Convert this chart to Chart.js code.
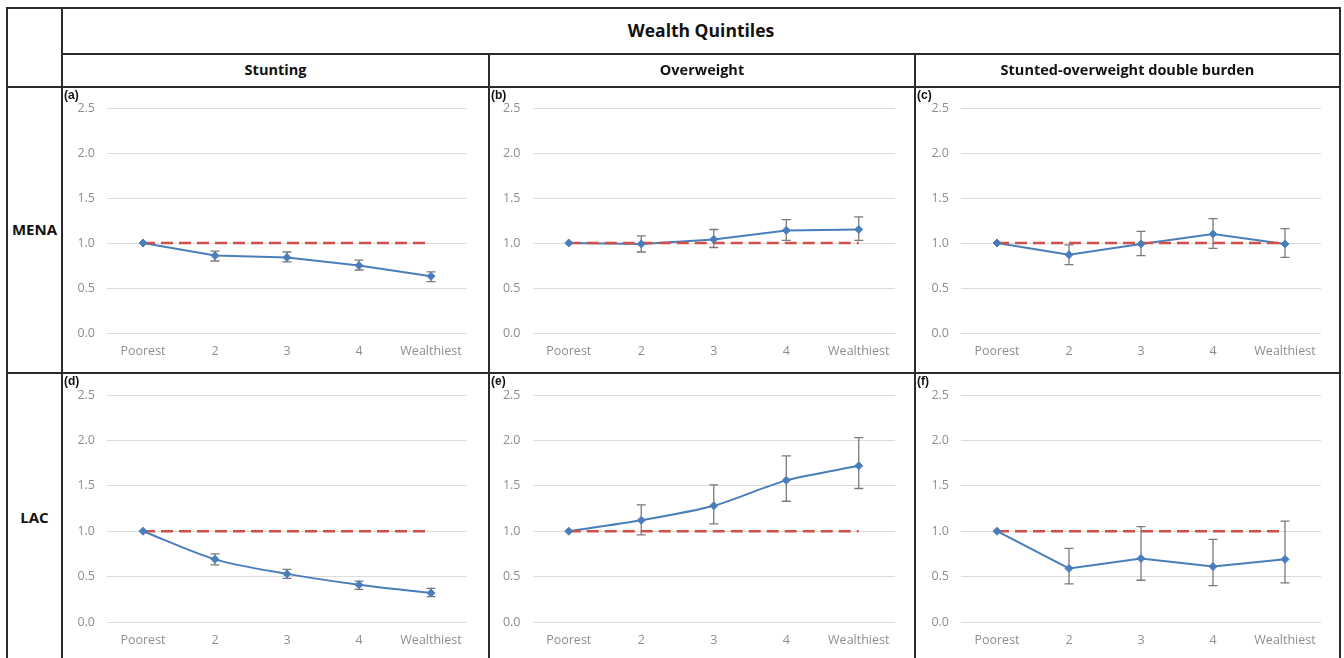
<!DOCTYPE html>
<html>
<head>
<meta charset="utf-8">
<script src="https://cdn.jsdelivr.net/npm/chart.js@4/dist/chart.umd.min.js"></script>
<style>
  html, body { margin: 0; padding: 0; background: #fff; }
  #page { position: relative; width: 1344px; height: 658px; overflow: hidden; font-family: "Open Sans", Lato, sans-serif; }
  canvas.panel { position: absolute; }
  .rule { position: absolute; background: #2b2b2b; z-index: 5; }
  .head { position: absolute; text-align: center; font-weight: 700; color: #111; z-index: 6; }
  .tag { position: absolute; font: bold 12px "Liberation Sans", Arial, sans-serif; color: #111; z-index: 6; }
</style>
</head>
<body>
<div id="page">
  <!-- table rules -->
  <div class="rule" style="left:6px; top:7px; width:1335px; height:2px;"></div>
  <div class="rule" style="left:6px; top:7px; width:2px; height:651px;"></div>
  <div class="rule" style="left:1339px; top:7px; width:2px; height:651px;"></div>
  <div class="rule" style="left:61px; top:7px; width:2px; height:651px;"></div>
  <div class="rule" style="left:61px; top:53px; width:1280px; height:2px;"></div>
  <div class="rule" style="left:6px; top:86px; width:1335px; height:2px;"></div>
  <div class="rule" style="left:488px; top:53px; width:2px; height:605px;"></div>
  <div class="rule" style="left:914px; top:53px; width:2px; height:605px;"></div>
  <div class="rule" style="left:6px; top:372px; width:1335px; height:2px;"></div>

  <!-- header texts -->
  <div class="head" style="left:63px; width:1276px; top:18px; font-size:17.5px;">Wealth Quintiles</div>
  <div class="head" style="left:63px; width:425px; top:60px; font-size:14.5px;">Stunting</div>
  <div class="head" style="left:490px; width:424px; top:60px; font-size:14.5px;">Overweight</div>
  <div class="head" style="left:916px; width:423px; top:60px; font-size:14.5px;">Stunted-overweight double burden</div>
  <div class="head" style="left:8px; width:53px; top:219px; font-size:15px;">MENA</div>
  <div class="head" style="left:8px; width:53px; top:507px; font-size:15px;">LAC</div>

  <!-- panel tags -->
  <div class="tag" style="left:64px; top:88px;">(a)</div>
  <div class="tag" style="left:491px; top:88px;">(b)</div>
  <div class="tag" style="left:917px; top:88px;">(c)</div>
  <div class="tag" style="left:64px; top:374px;">(d)</div>
  <div class="tag" style="left:491px; top:374px;">(e)</div>
  <div class="tag" style="left:917px; top:374px;">(f)</div>

  <canvas class="panel" id="pa" width="426" height="285" style="left:62px; top:88px;"></canvas>
  <canvas class="panel" id="pb" width="426" height="285" style="left:489px; top:88px;"></canvas>
  <canvas class="panel" id="pc" width="424" height="285" style="left:915px; top:88px;"></canvas>
  <canvas class="panel" id="pd" width="426" height="285" style="left:62px; top:373px;"></canvas>
  <canvas class="panel" id="pe" width="426" height="285" style="left:489px; top:373px;"></canvas>
  <canvas class="panel" id="pf" width="424" height="285" style="left:915px; top:373px;"></canvas>
</div>

<script>
// Wealth quintile categories and y-axis ticks
const quintiles = ['Poorest', '2', '3', '4', 'Wealthiest'];
const yTicks = [0, 0.5, 1.0, 1.5, 2.0, 2.5];
const reference = [1, 1, 1, 1, 1];

// MENA: odds ratios with 95% CI (poorest quintile = reference)
const menaStunting     = [1.00, 0.86, 0.84, 0.75, 0.63];
const menaStuntingLow  = [null, 0.80, 0.79, 0.70, 0.57];
const menaStuntingHigh = [null, 0.91, 0.90, 0.81, 0.68];

const menaOverweight     = [1.00, 0.99, 1.04, 1.14, 1.15];
const menaOverweightLow  = [null, 0.90, 0.95, 1.03, 1.03];
const menaOverweightHigh = [null, 1.08, 1.15, 1.26, 1.29];

const menaDouble     = [1.00, 0.87, 0.99, 1.10, 0.99];
const menaDoubleLow  = [null, 0.76, 0.86, 0.94, 0.84];
const menaDoubleHigh = [null, 0.98, 1.13, 1.27, 1.16];

// LAC
const lacStunting     = [1.00, 0.69, 0.53, 0.41, 0.32];
const lacStuntingLow  = [null, 0.63, 0.48, 0.36, 0.28];
const lacStuntingHigh = [null, 0.75, 0.58, 0.45, 0.37];

const lacOverweight     = [1.00, 1.12, 1.28, 1.56, 1.72];
const lacOverweightLow  = [null, 0.96, 1.08, 1.33, 1.47];
const lacOverweightHigh = [null, 1.29, 1.51, 1.83, 2.03];

const lacDouble     = [1.00, 0.59, 0.70, 0.61, 0.69];
const lacDoubleLow  = [null, 0.42, 0.46, 0.40, 0.43];
const lacDoubleHigh = [null, 0.81, 1.05, 0.91, 1.11];

const BLUE = '#4a7ebb';
const RED = '#d0504a';
const TICK_GREY = '#8e8e8e';

// Draws vertical confidence-interval whiskers with caps, behind the series line
const errorBarPlugin = {
  id: 'errorBars',
  beforeDatasetsDraw(chart, args, opts) {
    const { ctx, scales: { x, y } } = chart;
    ctx.save();
    ctx.strokeStyle = '#7a7a7a';
    ctx.lineWidth = 1.3;
    opts.low.forEach((lo, i) => {
      const hi = opts.high[i];
      if (lo == null || hi == null) return;
      const px = x.getPixelForValue(i);
      const y1 = y.getPixelForValue(lo);
      const y2 = y.getPixelForValue(hi);
      ctx.beginPath();
      ctx.moveTo(px, y1); ctx.lineTo(px, y2);
      ctx.moveTo(px - 4.5, y1); ctx.lineTo(px + 4.5, y1);
      ctx.moveTo(px - 4.5, y2); ctx.lineTo(px + 4.5, y2);
      ctx.stroke();
    });
    ctx.restore();
  }
};

function makePanel(id, values, low, high, cfg) {
  const tickFont = { family: '"Open Sans", Lato, sans-serif', size: 12.5 };
  new Chart(document.getElementById(id), {
    type: 'line',
    data: {
      labels: quintiles,
      datasets: [
        { // series line
          data: values, borderColor: BLUE, borderWidth: 2, pointRadius: 0,
          tension: cfg.tension, fill: false, order: 3
        },
        { // reference line at 1.0
          data: reference, borderColor: RED, borderWidth: 2.5, borderDash: [12, 6],
          pointRadius: 0, fill: false, order: 2
        },
        { // diamond markers
          data: values, showLine: false, pointStyle: 'rectRot', pointRadius: 4,
          pointBackgroundColor: BLUE, pointBorderColor: BLUE, pointBorderWidth: 1, order: 1
        }
      ]
    },
    options: {
      responsive: false,
      animation: false,
      devicePixelRatio: 1,
      layout: { padding: { left: 0, right: cfg.right, top: cfg.top, bottom: 0 } },
      plugins: {
        legend: { display: false },
        tooltip: { enabled: false },
        errorBars: { low, high }
      },
      scales: {
        x: {
          offset: true,
          grid: { display: false, drawTicks: false },
          border: { display: false },
          ticks: { color: TICK_GREY, font: tickFont, padding: 11, maxRotation: 0, autoSkip: false },
          afterFit(s) { s.height = cfg.axisH; }
        },
        y: {
          min: 0, max: 2.5,
          afterBuildTicks(s) { s.ticks = yTicks.map(v => ({ value: v })); },
          grid: { color: '#dcdcdc', lineWidth: 1, drawTicks: false },
          border: { display: false },
          ticks: { color: TICK_GREY, font: tickFont, padding: 12, callback: v => v.toFixed(1) },
          afterFit(s) { s.width = cfg.axisW; }
        }
      }
    },
    plugins: [errorBarPlugin]
  });
}

const row1 = { top: 20, axisH: 40 };
const row2 = { top: 22, axisH: 36 };

makePanel('pa', menaStunting,   menaStuntingLow,   menaStuntingHigh,   { ...row1, axisW: 45,   right: 21, tension: 0 });
makePanel('pb', menaOverweight, menaOverweightLow, menaOverweightHigh, { ...row1, axisW: 43.5, right: 20, tension: 0 });
makePanel('pc', menaDouble,     menaDoubleLow,     menaDoubleHigh,     { ...row1, axisW: 46,   right: 18, tension: 0 });
makePanel('pd', lacStunting,    lacStuntingLow,    lacStuntingHigh,    { ...row2, axisW: 45,   right: 21, tension: 0.3 });
makePanel('pe', lacOverweight,  lacOverweightLow,  lacOverweightHigh,  { ...row2, axisW: 43.5, right: 20, tension: 0.25 });
makePanel('pf', lacDouble,      lacDoubleLow,      lacDoubleHigh,      { ...row2, axisW: 46,   right: 18, tension: 0 });
</script>
</body>
</html>
